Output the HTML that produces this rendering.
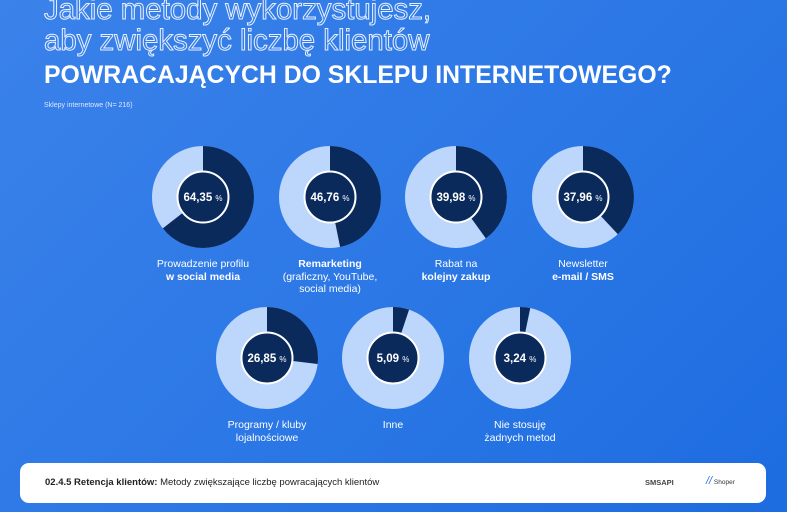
<!DOCTYPE html>
<html><head><meta charset="utf-8"><style>
body{margin:0;width:787px;height:512px;overflow:hidden;font-family:"Liberation Sans",sans-serif;background:linear-gradient(135deg,#3b82ea 0%,#2c78e6 50%,#1d6ce0 100%);position:relative}
.t{position:absolute;left:44px;white-space:nowrap}
.o{color:transparent;-webkit-text-stroke:1px #e8f0ff;font-size:29.4px}
.b{color:#fff;font-weight:bold;font-size:24.8px}
.lab{position:absolute;color:#fff;font-size:10.5px;text-align:center;width:160px;line-height:12.5px}
.foot{position:absolute;left:20px;top:463px;width:746px;height:40px;background:#fff;border-radius:9px}
</style></head><body>
<div class="t o" style="top:-7px">Jakie metody wykorzystujesz,</div>
<div class="t o" style="top:24px">aby zwiększyć liczbę klientów</div>
<div class="t b" style="top:62px">POWRACAJĄCYCH DO SKLEPU INTERNETOWEGO?</div>
<div style="position:absolute;left:44px;top:102px;font-size:7px;color:#dbe7ff">Sklepy internetowe (N= 216)</div>
<svg width="787" height="512" style="position:absolute;left:0;top:0" font-family="Liberation Sans, sans-serif">
<g>
<circle cx="203" cy="197" r="38" fill="none" stroke="#bdd6fb" stroke-width="26"/>
<circle cx="203" cy="197" r="38" fill="none" stroke="#0b2a5c" stroke-width="26" stroke-dasharray="153.6 300" transform="rotate(-90 203 197)"/>
<circle cx="203" cy="197" r="25.5" fill="#0b2a5c" stroke="#fff" stroke-width="2"/>
<text x="203" y="201" text-anchor="middle" fill="#fff" font-size="11.5" font-weight="bold">64,35 <tspan font-size="8" font-weight="normal">%</tspan></text>

<circle cx="330" cy="197" r="38" fill="none" stroke="#bdd6fb" stroke-width="26"/>
<circle cx="330" cy="197" r="38" fill="none" stroke="#0b2a5c" stroke-width="26" stroke-dasharray="111.6 300" transform="rotate(-90 330 197)"/>
<circle cx="330" cy="197" r="25.5" fill="#0b2a5c" stroke="#fff" stroke-width="2"/>
<text x="330" y="201" text-anchor="middle" fill="#fff" font-size="11.5" font-weight="bold">46,76 <tspan font-size="8" font-weight="normal">%</tspan></text>

<circle cx="456" cy="197" r="38" fill="none" stroke="#bdd6fb" stroke-width="26"/>
<circle cx="456" cy="197" r="38" fill="none" stroke="#0b2a5c" stroke-width="26" stroke-dasharray="95.5 300" transform="rotate(-90 456 197)"/>
<circle cx="456" cy="197" r="25.5" fill="#0b2a5c" stroke="#fff" stroke-width="2"/>
<text x="456" y="201" text-anchor="middle" fill="#fff" font-size="11.5" font-weight="bold">39,98 <tspan font-size="8" font-weight="normal">%</tspan></text>

<circle cx="583" cy="197" r="38" fill="none" stroke="#bdd6fb" stroke-width="26"/>
<circle cx="583" cy="197" r="38" fill="none" stroke="#0b2a5c" stroke-width="26" stroke-dasharray="90.6 300" transform="rotate(-90 583 197)"/>
<circle cx="583" cy="197" r="25.5" fill="#0b2a5c" stroke="#fff" stroke-width="2"/>
<text x="583" y="201" text-anchor="middle" fill="#fff" font-size="11.5" font-weight="bold">37,96 <tspan font-size="8" font-weight="normal">%</tspan></text>

<circle cx="267" cy="358" r="38" fill="none" stroke="#bdd6fb" stroke-width="26"/>
<circle cx="267" cy="358" r="38" fill="none" stroke="#0b2a5c" stroke-width="26" stroke-dasharray="64.1 300" transform="rotate(-90 267 358)"/>
<circle cx="267" cy="358" r="25.5" fill="#0b2a5c" stroke="#fff" stroke-width="2"/>
<text x="267" y="362" text-anchor="middle" fill="#fff" font-size="11.5" font-weight="bold">26,85 <tspan font-size="8" font-weight="normal">%</tspan></text>

<circle cx="393" cy="358" r="38" fill="none" stroke="#bdd6fb" stroke-width="26"/>
<circle cx="393" cy="358" r="38" fill="none" stroke="#0b2a5c" stroke-width="26" stroke-dasharray="12.2 300" transform="rotate(-90 393 358)"/>
<circle cx="393" cy="358" r="25.5" fill="#0b2a5c" stroke="#fff" stroke-width="2"/>
<text x="393" y="362" text-anchor="middle" fill="#fff" font-size="11.5" font-weight="bold">5,09 <tspan font-size="8" font-weight="normal">%</tspan></text>

<circle cx="520" cy="358" r="38" fill="none" stroke="#bdd6fb" stroke-width="26"/>
<circle cx="520" cy="358" r="38" fill="none" stroke="#0b2a5c" stroke-width="26" stroke-dasharray="7.7 300" transform="rotate(-90 520 358)"/>
<circle cx="520" cy="358" r="25.5" fill="#0b2a5c" stroke="#fff" stroke-width="2"/>
<text x="520" y="362" text-anchor="middle" fill="#fff" font-size="11.5" font-weight="bold">3,24 <tspan font-size="8" font-weight="normal">%</tspan></text>
</g>
</svg>
<div class="lab" style="left:123px;top:258px">Prowadzenie profilu<br><b>w social media</b></div>
<div class="lab" style="left:250px;top:258px"><b>Remarketing</b><br>(graficzny, YouTube,<br>social media)</div>
<div class="lab" style="left:376px;top:258px">Rabat na<br><b>kolejny zakup</b></div>
<div class="lab" style="left:503px;top:258px">Newsletter<br><b>e-mail / SMS</b></div>
<div class="lab" style="left:187px;top:419px">Programy / kluby<br>lojalnościowe</div>
<div class="lab" style="left:313px;top:419px">Inne</div>
<div class="lab" style="left:440px;top:419px">Nie stosuję<br>żadnych metod</div>
<div class="foot">
<div style="position:absolute;left:25px;top:14px;font-size:9.5px;color:#222"><b>02.4.5 Retencja klientów:</b> Metody zwiększające liczbę powracających klientów</div>
<div style="position:absolute;left:625px;top:15px;font-size:7.5px;color:#444;font-weight:bold">SMSAPI</div>
<div style="position:absolute;left:686px;top:12px;font-size:11px;color:#2a6fe0;font-style:italic">//<span style="font-size:6.5px;color:#333;font-style:normal"> Shoper</span></div>
</div>
</body></html>
